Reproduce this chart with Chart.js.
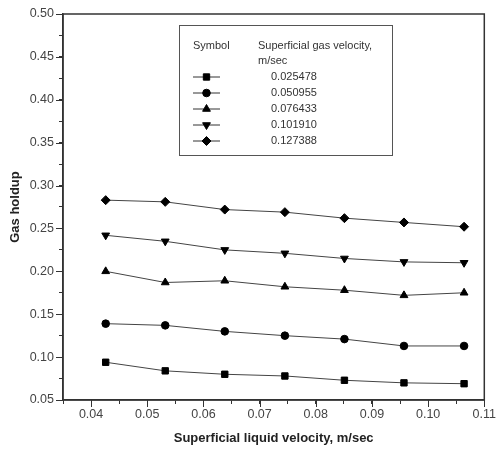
<!DOCTYPE html>
<html>
<head>
<meta charset="utf-8">
<script src="https://cdn.jsdelivr.net/npm/chart.js@4/dist/chart.umd.min.js"></script>
<style>
  html, body { margin: 0; padding: 0; background: #fff; }
  #wrap { width: 499px; height: 453px; }
</style>
</head>
<body>
<div id="wrap"><canvas id="holdup" width="499" height="453"></canvas></div>
<script>
// liquid velocity (m/sec)
let liquidVel = [0.0426, 0.0532, 0.0638, 0.0745, 0.0851, 0.0957, 0.1064];
// superficial gas velocity, m/sec
let gasVel = ['0.025478', '0.050955', '0.076433', '0.101910', '0.127388'];
let holdup1 = [0.094, 0.084, 0.080, 0.078, 0.073, 0.070, 0.069];
let holdup2 = [0.139, 0.137, 0.130, 0.125, 0.121, 0.113, 0.113];
let holdup3 = [0.200, 0.187, 0.189, 0.182, 0.178, 0.172, 0.175];
let holdup4 = [0.242, 0.235, 0.225, 0.221, 0.215, 0.211, 0.210];
let holdup5 = [0.283, 0.281, 0.272, 0.269, 0.262, 0.257, 0.252];
let markers = ['rect', 'circle', 'triangle', 'triangle', 'rectRot'];
let rotations = [0, 0, 0, 180, 0];
let radii = [4.5, 3.8, 4.5, 4.5, 4.5];

let allHoldup = [holdup1, holdup2, holdup3, holdup4, holdup5];
let font = "'Liberation Sans', Arial, sans-serif";

let sets = allHoldup.map(function (vals, i) {
    return {
        label: gasVel[i],
        data: vals.map(function (v, k) { return { x: liquidVel[k], y: v }; }),
        borderColor: '#444',
        borderWidth: 1,
        backgroundColor: '#000',
        pointBackgroundColor: '#000',
        pointBorderColor: '#000',
        pointBorderWidth: 1,
        pointStyle: markers[i],
        rotation: rotations[i],
        pointRadius: radii[i],
        pointHoverRadius: radii[i],
        tension: 0
    };
});

// frame round the plot, longer major ticks, and the legend box
let framePlugin = {
    id: 'frame',
    afterDraw: function (chart) {
        let ctx = chart.ctx;
        let a = chart.chartArea;
        ctx.save();
        ctx.strokeStyle = '#333';
        ctx.lineWidth = 1.5;
        ctx.strokeRect(a.left, a.top, a.right - a.left, a.bottom - a.top);

        // major ticks a bit longer than the minor ones
        ctx.lineWidth = 1;
        chart.scales.x.ticks.forEach(function (t) {
            let n = Math.round(t.value * 1000);
            if (n % 10 !== 0) return;
            let px = Math.round(chart.scales.x.getPixelForValue(t.value)) + 0.5;
            ctx.beginPath();
            ctx.moveTo(px, a.bottom);
            ctx.lineTo(px, a.bottom + 7);
            ctx.stroke();
        });
        chart.scales.y.ticks.forEach(function (t) {
            let n = Math.round(t.value * 1000);
            if (n % 50 !== 0) return;
            let py = Math.round(chart.scales.y.getPixelForValue(t.value)) + 0.5;
            ctx.beginPath();
            ctx.moveTo(a.left, py);
            ctx.lineTo(a.left - 7, py);
            ctx.stroke();
        });

        // legend
        ctx.lineWidth = 1;
        ctx.strokeStyle = '#555';
        ctx.strokeRect(179.5, 25.5, 213, 130);
        ctx.fillStyle = '#333';
        ctx.font = '11px ' + font;
        ctx.textBaseline = 'middle';
        ctx.textAlign = 'left';
        ctx.fillText('Symbol', 193, 46);
        ctx.fillText('Superficial gas velocity,', 258, 46);
        ctx.fillText('m/sec', 258, 61);
        chart.data.datasets.forEach(function (ds, i) {
            let y = 77 + i * 16;
            ctx.strokeStyle = '#333';
            ctx.beginPath();
            ctx.moveTo(193, y);
            ctx.lineTo(220, y);
            ctx.stroke();
            ctx.fillStyle = '#000';
            ctx.strokeStyle = '#000';
            Chart.helpers.drawPoint(ctx, {
                pointStyle: ds.pointStyle,
                rotation: ds.rotation,
                radius: ds.pointRadius,
                borderWidth: 1
            }, 206.5, y);
            ctx.fillStyle = '#333';
            ctx.fillText(ds.label, 271, y);
        });
        ctx.restore();
    }
};

let chart = new Chart(document.getElementById('holdup').getContext('2d'), {
    type: 'line',
    data: { datasets: sets },
    options: {
        responsive: false,
        animation: false,
        layout: { padding: { top: 14, right: 10, left: 0, bottom: 0 } },
        plugins: {
            legend: { display: false },
            tooltip: { enabled: false }
        },
        scales: {
            x: {
                type: 'linear',
                min: 0.035,
                max: 0.11,
                afterFit: function (s) { s.height = 53; },
                border: { color: '#333', width: 1.5 },
                grid: { drawOnChartArea: false, tickLength: 4, color: '#333' },
                ticks: {
                    stepSize: 0.005,
                    autoSkip: false,
                    maxRotation: 0,
                    color: '#444',
                    font: { family: font, size: 12.5 },
                    padding: 3,
                    callback: function (v) {
                        let n = Math.round(v * 1000);
                        return (n % 10 === 0 && n >= 40) ? (n / 1000).toFixed(2) : '';
                    }
                },
                title: {
                    display: true,
                    text: 'Superficial liquid velocity, m/sec',
                    color: '#222',
                    font: { family: font, size: 13, weight: 'bold' },
                    padding: { top: 4, bottom: 7 }
                }
            },
            y: {
                min: 0.05,
                max: 0.50,
                afterFit: function (s) { s.width = 63; },
                border: { color: '#333', width: 1.5 },
                grid: { drawOnChartArea: false, tickLength: 4, color: '#333' },
                ticks: {
                    stepSize: 0.025,
                    autoSkip: false,
                    color: '#444',
                    font: { family: font, size: 12.5 },
                    padding: 5,
                    callback: function (v) {
                        let n = Math.round(v * 1000);
                        return (n % 50 === 0) ? (n / 1000).toFixed(2) : '';
                    }
                },
                title: {
                    display: true,
                    text: 'Gas holdup',
                    color: '#222',
                    font: { family: font, size: 13, weight: 'bold' },
                    padding: { top: 8, bottom: 4 }
                }
            }
        }
    },
    plugins: [framePlugin]
});
</script>
</body>
</html>
